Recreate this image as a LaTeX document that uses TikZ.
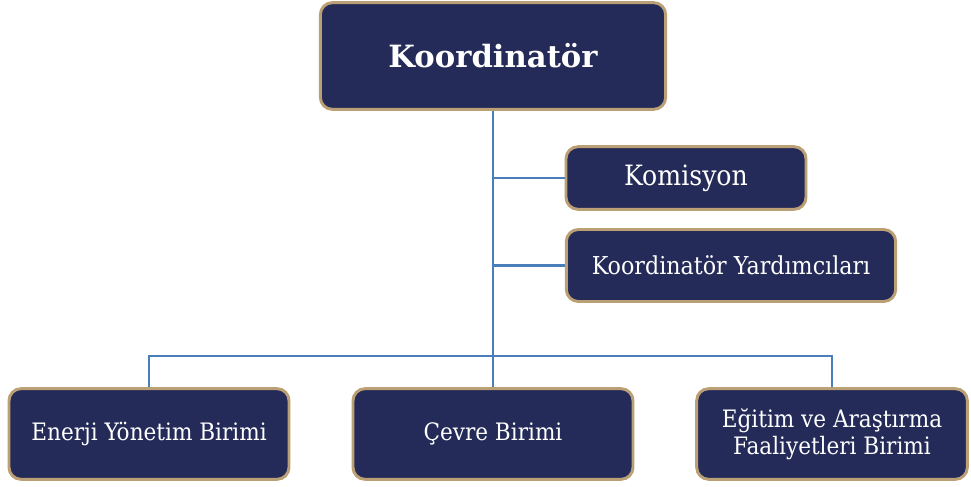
\documentclass[tikz,border=0pt]{standalone}
\usepackage{fontspec}
\setmainfont{DejaVu Serif Condensed}
\newfontfamily\titlefont{DejaVu Serif}
\usepackage{tikz}
\usetikzlibrary{positioning}
\definecolor{boxnavy}{RGB}{36,43,88}
\definecolor{boxgold}{RGB}{186,160,116}
\definecolor{linkblue}{RGB}{74,126,187}

\begin{document}
\begin{tikzpicture}[x=0.75pt,y=-0.75pt,
    unit/.style={draw=boxgold, line width=2.2pt, fill=boxnavy, text=white,
      rounded corners=9pt, align=center, inner sep=0pt},
    link/.style={linkblue, line width=1.6pt}]
    \useasboundingbox (0,0) rectangle (971,486);

    % Koordinatör
    \node[unit, minimum width=259pt, minimum height=80pt,
      font=\titlefont\fontsize{23}{26}\selectfont\bfseries] (koord) at (493,56) {Koordinatör};

    % yan birimler
    \node[unit, minimum width=180pt, minimum height=47pt,
      font=\fontsize{21}{24}\selectfont] (komisyon) at (686,178) {Komisyon};
    \node[unit, minimum width=247pt, minimum height=54pt,
      font=\fontsize{18.5}{21}\selectfont] (yard) at (731,265.5) {Koordinatör Yardımcıları};

    % alt birimler
    \node[unit, minimum width=210pt, minimum height=68pt,
      font=\fontsize{18}{20}\selectfont] (enerji) at (149,434) {Enerji Yönetim Birimi};
    \node[unit, minimum width=210pt, minimum height=68pt,
      font=\fontsize{18}{20}\selectfont] (cevre) at (493,434) {Çevre Birimi};
    \node[unit, minimum width=203pt, minimum height=68pt,
      font=\fontsize{18}{20.25}\selectfont] (egitim) at (832,434) {Eğitim ve Araştırma\\Faaliyetleri Birimi};

    % bağlantılar
    \coordinate (bar) at (493,356);
    \draw[link] (koord.south) -- (cevre.north);
    \draw[link] (komisyon.west) -- (komisyon.west -| koord.south);
    \draw[link] (yard.west) -- (yard.west -| koord.south);
    \draw[link] (enerji.north) |- (bar) -| (egitim.north);
\end{tikzpicture}
\end{document}
